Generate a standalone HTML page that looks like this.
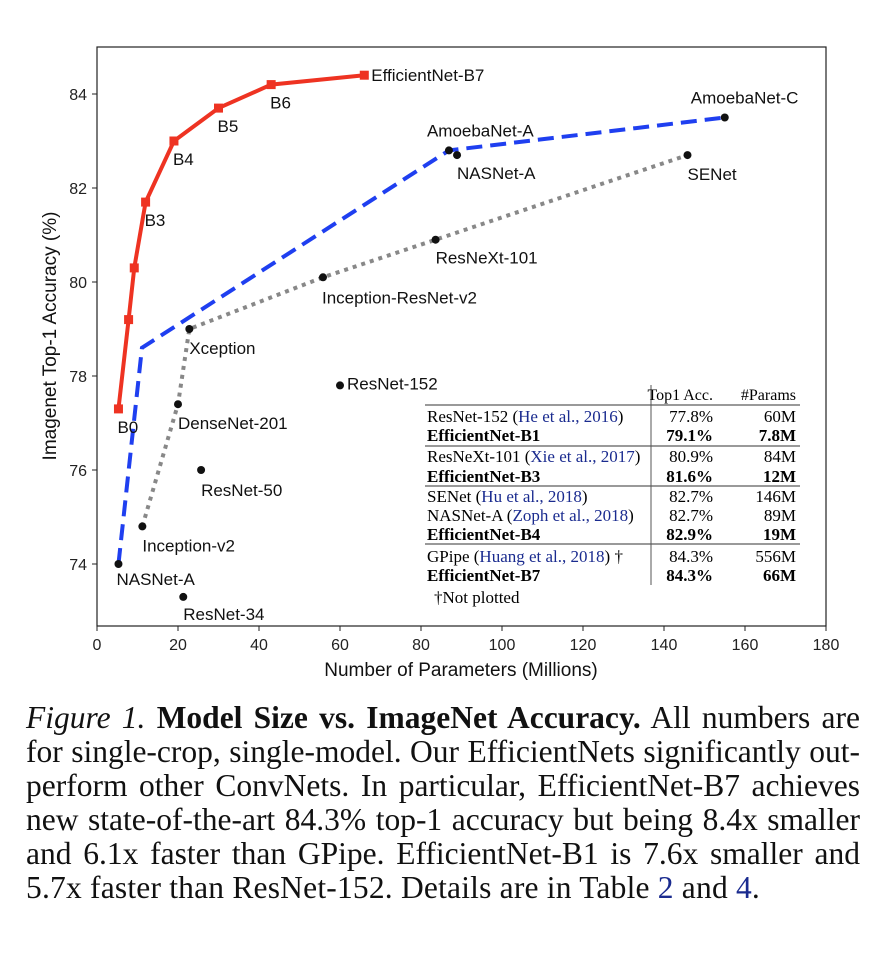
<!DOCTYPE html>
<html><head><meta charset="utf-8"><style>
body{margin:0;background:#fff;width:880px;height:968px;overflow:hidden}
svg text{font-family:"Liberation Sans",sans-serif}
.cap{position:absolute;left:26px;width:834px;font-family:"Liberation Serif",serif;font-size:31.5px;line-height:34px;color:#111}
.cap div{text-align:justify;text-align-last:justify;white-space:nowrap;height:34px}
.cap div.last{text-align-last:left;letter-spacing:0.2px}
.cap a{color:#1a2b8f;text-decoration:none}
</style></head><body>
<svg id="chart" width="880" height="700" style="position:absolute;left:0;top:0"></svg>
<div class="cap" style="top:701px">
<div><i>Figure 1.</i> <b>Model Size vs. ImageNet Accuracy.</b> All numbers are</div>
<div>for single-crop, single-model. Our EfficientNets significantly out-</div>
<div>perform other ConvNets. In particular, EfficientNet-B7 achieves</div>
<div>new state-of-the-art 84.3% top-1 accuracy but being 8.4x smaller</div>
<div>and 6.1x faster than GPipe. EfficientNet-B1 is 7.6x smaller and</div>
<div class="last">5.7x faster than ResNet-152. Details are in Table <a>2</a> and <a>4</a>.</div>
</div>
<script>
const effParams=[5.3,7.8,9.2,12,19,30,43,66];
const effAcc=[77.3,79.2,80.3,81.7,83.0,83.7,84.2,84.4];
const effLabels=["B0","","","B3","B4","B5","B6","EfficientNet-B7"];
const blueParams=[5.3,11.1,86.9,155];
const blueAcc=[74.0,78.6,82.8,83.5];
const grayParams=[11.2,20,22.8,55.8,83.6,145.8];
const grayAcc=[74.8,77.4,79.0,80.1,80.9,82.7];
const otherNames=["NASNet-A","AmoebaNet-A","AmoebaNet-C","Inception-v2","DenseNet-201","Xception","Inception-ResNet-v2","ResNeXt-101","SENet","NASNet-A","ResNet-152","ResNet-50","ResNet-34"];
const otherParams=[5.3,86.9,155,11.2,20,22.8,55.8,83.6,145.8,88.9,60,25.7,21.3];
const otherAcc=[74.0,82.8,83.5,74.8,77.4,79.0,80.1,80.9,82.7,82.7,77.8,76.0,73.3];
const labelOff=[[-2,21],[-22,-14],[-34,-14],[0,25],[0,25],[0,25],[-1,26],[0,24],[0,25],[0,24],[7,4],[0,26],[0,23]];
const xTicks=[0,20,40,60,80,100,120,140,160,180];
const yTicks=[74,76,78,80,82,84];
const L=97,R=826,T=47,B=626;
const X=v=>L+v*(R-L)/180;
const Y=v=>564-(v-74)*47;
const svg=document.getElementById('chart');
const NS='http://www.w3.org/2000/svg';
function mk(tag,at,txt){const e=document.createElementNS(NS,tag);for(const k in at)e.setAttribute(k,at[k]);if(txt!=null)e.textContent=txt;svg.appendChild(e);return e;}
let e=mk('rect',{x:L,y:T,width:R-L,height:B-T,fill:'none',stroke:'#222','stroke-width':1.2});

xTicks.forEach(t=>{mk('line',{x1:X(t),x2:X(t),y1:B,y2:B+5,stroke:'#222'});
 e=mk('text',{x:X(t),y:B+24,'text-anchor':'middle','font-size':16,fill:'#222'},t);
 });
yTicks.forEach(t=>{mk('line',{x1:L-5,x2:L,y1:Y(t),y2:Y(t),stroke:'#222'});
 e=mk('text',{x:L-10,y:Y(t)+6,'text-anchor':'end','font-size':16,fill:'#222'},t);
 });
e=mk('text',{x:461,y:676,'text-anchor':'middle','font-size':19,fill:'#111'},'Number of Parameters (Millions)');

e=mk('text',{x:56,y:336,'text-anchor':'middle','font-size':19,fill:'#111',transform:'rotate(-90 56 336)'},'Imagenet Top-1 Accuracy (%)');

const pts=(p,a)=>p.map((v,i)=>X(v)+','+Y(a[i])).join(' ');
e=mk('polyline',{points:pts(grayParams,grayAcc),fill:'none',stroke:'#888','stroke-width':4,'stroke-dasharray':'4 5'});

e=mk('polyline',{points:pts(blueParams,blueAcc),fill:'none',stroke:'#1f3ff0','stroke-width':4,'stroke-dasharray':'16 8'});

e=mk('polyline',{points:pts(effParams,effAcc),fill:'none',stroke:'#ee3322','stroke-width':4});

effParams.forEach((p,i)=>{e=mk('rect',{x:X(p)-4.5,y:Y(effAcc[i])-4.5,width:9,height:9,fill:'#ee3322'});
 
 if(effLabels[i]){const last=i==effParams.length-1;
 e=mk('text',{x:last?X(p)+7:X(p)-1,y:last?Y(effAcc[i])+6:Y(effAcc[i])+24,'font-size':17,fill:'#111'},effLabels[i]);
 }});
otherParams.forEach((p,i)=>{e=mk('circle',{cx:X(p),cy:Y(otherAcc[i]),r:4,fill:'#111'});
 
 e=mk('text',{x:X(p)+labelOff[i][0],y:Y(otherAcc[i])+labelOff[i][1],'font-size':17,fill:'#111'},otherNames[i]);
 });
// table
const tRows=[["ResNet-152 ","He et al., 2016","77.8%","60M",0,416],["EfficientNet-B1","","79.1%","7.8M",1,435],["ResNeXt-101 ","Xie et al., 2017","80.9%","84M",0,456],["EfficientNet-B3","","81.6%","12M",1,476],["SENet ","Hu et al., 2018","82.7%","146M",0,496],["NASNet-A ","Zoph et al., 2018","82.7%","89M",0,515],["EfficientNet-B4","","82.9%","19M",1,534],["GPipe ","Huang et al., 2018","84.3%","556M",0,556],["EfficientNet-B7","","84.3%","66M",1,575]];
const tf='font-family:"Liberation Serif",serif;font-size:17px';
[[425,800,405],[425,800,446],[425,800,486],[425,800,544]].forEach(r=>mk('line',{x1:r[0],x2:r[1],y1:r[2],y2:r[2],stroke:'#333','stroke-width':1}));
mk('line',{x1:651,x2:651,y1:385,y2:585,stroke:'#555'});
e=mk('text',{x:713,y:400,'text-anchor':'end',style:tf+';font-size:16px'},'Top1 Acc.');
mk('text',{x:796,y:400,'text-anchor':'end',style:tf+';font-size:16px'},'#Params');
tRows.forEach(r=>{const w=r[4]?'bold':'normal';
 e=mk('text',{x:427,y:r[5]+6,style:tf+';font-weight:'+w});
 const s1=document.createElementNS(NS,'tspan');s1.textContent=r[0]+(r[1]?'(':'');e.appendChild(s1);
 if(r[1]){const s2=document.createElementNS(NS,'tspan');s2.setAttribute('fill','#1a2b8f');s2.textContent=r[1];e.appendChild(s2);
 const s3=document.createElementNS(NS,'tspan');s3.textContent=')'+(r[0]=="GPipe "?' †':'');e.appendChild(s3);}
 mk('text',{x:713,y:r[5]+6,'text-anchor':'end',style:tf+';font-weight:'+w},r[2]);
 mk('text',{x:796,y:r[5]+6,'text-anchor':'end',style:tf+';font-weight:'+w},r[3]);});
e=mk('text',{x:434,y:603,style:tf},'†Not plotted');
</script>
</body></html>
